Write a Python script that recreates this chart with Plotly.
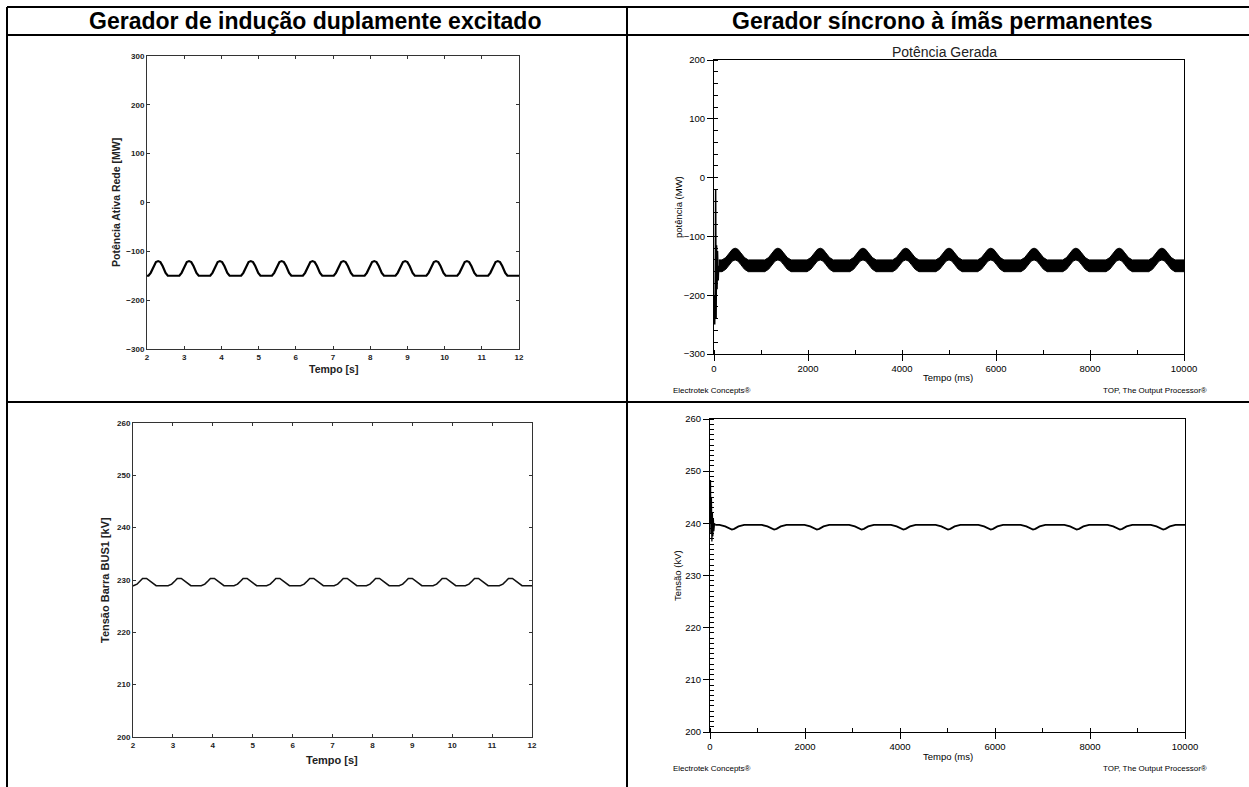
import plotly.graph_objects as go

W, H = 1249, 787

# ---------------- data ----------------
# Top-left: DFIG active power [MW] vs time [s]
tl_xticks = [2, 3, 4, 5, 6, 7, 8, 9, 10, 11, 12]
tl_yticks = [-300, -200, -100, 0, 100, 200, 300]
tl_peaks = [2.30, 3.13, 3.96, 4.79, 5.62, 6.45, 7.28, 8.11, 8.94, 9.77, 10.60, 11.43]
tl_base = -150
tl_bump_dt = [-0.26, -0.20, -0.12, -0.06, 0.0, 0.06, 0.12, 0.20, 0.26]
tl_bump_v = [-150, -144, -130, -122, -120, -122, -130, -144, -150]

# Bottom-left: DFIG bus voltage [kV] vs time [s]
bl_yticks = [200, 210, 220, 230, 240, 250, 260]
bl_peaks = [2.28, 3.15, 3.98, 4.80, 5.62, 6.47, 7.31, 8.12, 8.94, 9.79, 10.60, 11.45]
bl_base = 228.9
bl_bump_dt = [-0.27, -0.18, -0.10, -0.04, 0.06, 0.14, 0.22, 0.30]
bl_bump_v = [228.9, 229.2, 229.8, 230.3, 230.3, 229.8, 229.3, 228.9]

# Top-right: PMSG generated power [MW] vs time [ms] (noisy band)
tr_xticks = [0, 2000, 4000, 6000, 8000, 10000]
tr_yticks = [-300, -200, -100, 0, 100, 200]
tr_peaks = [450, 1360, 2260, 3170, 4080, 5000, 5890, 6810, 7700, 8620, 9530]
tr_base = -150
tr_bump_dt = [-280, -200, -120, -60, 0, 60, 120, 200, 280]
tr_bump_c = [-150, -146, -138, -132, -130, -132, -138, -146, -150]
tr_halfband = 10
tr_trans_t = [0, 15, 25, 35, 45, 55, 65, 75, 90, 100]
tr_trans_v = [-200, -250, -190, -20, -240, -115, -190, -125, -175, -150]

# Bottom-right: PMSG voltage [kV] vs time [ms]
br_yticks = [200, 210, 220, 230, 240, 250, 260]
br_dips = [460, 1350, 2250, 3190, 4070, 5010, 5910, 6800, 7720, 8630, 9540]
br_base = 239.7
br_bump_dt = [-260, -140, -50, 0, 50, 140, 260]
br_bump_v = [239.7, 239.4, 238.95, 238.8, 238.95, 239.4, 239.7]
br_trans_t = [0, 10, 20, 30, 40, 50, 60, 70, 80, 95, 110]
br_trans_v = [240, 248.3, 238, 245, 236.5, 242, 237.5, 241, 238.5, 240, 239.7]

headers = ["Gerador de indução duplamente excitado", "Gerador síncrono à ímãs permanentes"]


def px(x):
    return x / W


def py(y):
    return 1 - y / H


def build(t0, t1, base, centers, dts, vals):
    xs, ys = [t0], [base]
    for c in centers:
        for d, v in zip(dts, vals):
            xs.append(c + d)
            ys.append(v)
    xs.append(t1)
    ys.append(base)
    return xs, ys


fig = go.Figure()

# Top-left
x, y = build(2, 12, tl_base, tl_peaks, tl_bump_dt, tl_bump_v)
fig.add_trace(go.Scatter(x=x, y=y, mode="lines", line=dict(color="black", width=2.2),
                         xaxis="x", yaxis="y", showlegend=False, hoverinfo="skip"))

# Top-right band
x, c = build(100, 10000, tr_base, tr_peaks, tr_bump_dt, tr_bump_c)
lower = [v - tr_halfband for v in c]
upper = [v + tr_halfband for v in c]
fig.add_trace(go.Scatter(x=x, y=lower, mode="lines", line=dict(color="black", width=1),
                         xaxis="x2", yaxis="y2", showlegend=False, hoverinfo="skip"))
fig.add_trace(go.Scatter(x=x, y=upper, mode="lines", line=dict(color="black", width=1),
                         fill="tonexty", fillcolor="black",
                         xaxis="x2", yaxis="y2", showlegend=False, hoverinfo="skip"))
fig.add_trace(go.Scatter(x=tr_trans_t, y=tr_trans_v, mode="lines", line=dict(color="black", width=1.5),
                         xaxis="x2", yaxis="y2", showlegend=False, hoverinfo="skip"))

# Bottom-left
x, y = build(2, 12, bl_base, bl_peaks, bl_bump_dt, bl_bump_v)
fig.add_trace(go.Scatter(x=x, y=y, mode="lines", line=dict(color="#111", width=1.6),
                         xaxis="x3", yaxis="y3", showlegend=False, hoverinfo="skip"))

# Bottom-right
x, y = build(110, 10000, br_base, br_dips, br_bump_dt, br_bump_v)
fig.add_trace(go.Scatter(x=x, y=y, mode="lines", line=dict(color="black", width=1.8),
                         xaxis="x4", yaxis="y4", showlegend=False, hoverinfo="skip"))
fig.add_trace(go.Scatter(x=br_trans_t, y=br_trans_v, mode="lines", line=dict(color="black", width=1.3),
                         xaxis="x4", yaxis="y4", showlegend=False, hoverinfo="skip"))

mat_font = dict(family="Liberation Sans", size=8, color="#222", weight="bold")
top_font = dict(family="Liberation Sans", size=9.5, color="black")


def mat_axis(domain, anchor, rng, ticks):
    return dict(domain=domain, anchor=anchor, range=rng, tickmode="array", tickvals=ticks,
                ticks="inside", ticklen=3, tickcolor="#333", showline=True, linecolor="#333",
                linewidth=1, mirror="ticks", showgrid=False, zeroline=False, tickfont=mat_font,
                automargin=False, fixedrange=True)


def top_axis(domain, anchor, rng, dtick, minor):
    return dict(domain=domain, anchor=anchor, range=rng, tickmode="linear", tick0=rng[0], dtick=dtick,
                ticks="outside", ticklen=6, tickcolor="black", showline=True, linecolor="black",
                linewidth=1, mirror=True, showgrid=False, zeroline=False, tickfont=top_font,
                tickformat="d", separatethousands=False, automargin=False, fixedrange=True,
                minor=dict(dtick=minor, ticks="inside", ticklen=4, tickcolor="black", showgrid=False))


layout = dict(
    template="none",
    width=W, height=H, autosize=False, margin=dict(l=0, r=0, t=0, b=0, pad=0),
    paper_bgcolor="white", plot_bgcolor="white", showlegend=False,
    xaxis=mat_axis([px(147), px(519)], "y", [2, 12], tl_xticks),
    yaxis=mat_axis([py(349), py(56)], "x", [-300, 300], tl_yticks),
    xaxis3=mat_axis([px(133), px(532)], "y3", [2, 12], tl_xticks),
    yaxis3=mat_axis([py(737), py(423)], "x3", [200, 260], bl_yticks),
    xaxis2=top_axis([px(714), px(1184)], "y2", [0, 10000], 2000, 1000),
    yaxis2=top_axis([py(354), py(60)], "x2", [-300, 200], 100, 20),
    xaxis4=top_axis([px(710), px(1185)], "y4", [0, 10000], 2000, 1000),
    yaxis4=top_axis([py(732), py(419)], "x4", [200, 260], 10, 1),
)
fig.update_layout(**layout)

# Table lines
line = dict(color="black", width=2)
shapes = [
    dict(type="line", xref="paper", yref="paper", x0=px(7), x1=1, y0=py(7), y1=py(7), line=line),
    dict(type="line", xref="paper", yref="paper", x0=px(7), x1=1, y0=py(35), y1=py(35), line=line),
    dict(type="line", xref="paper", yref="paper", x0=px(7), x1=1, y0=py(402), y1=py(402), line=line),
    dict(type="line", xref="paper", yref="paper", x0=px(7), x1=px(7), y0=py(7), y1=0, line=line),
    dict(type="line", xref="paper", yref="paper", x0=px(627), x1=px(627), y0=py(7), y1=0, line=line),
]
fig.update_layout(shapes=shapes)


def ann(text, x, y, size, xanchor="center", angle=0, bold=False, family="Liberation Sans", color="black"):
    fig.add_annotation(text=text, x=px(x), y=py(y), xref="paper", yref="paper", showarrow=False,
                       xanchor=xanchor, yanchor="middle", textangle=angle, borderpad=0,
                       font=dict(family=family, size=size, color=color,
                                 weight="bold" if bold else "normal"))


ann(headers[0], 315, 21, 23, bold=True)
ann(headers[1], 943, 21, 23, bold=True)

# Top-left titles
ann("Potência Ativa Rede [MW]", 116, 203, 10.5, angle=-90, bold=True, color="#222")
ann("Tempo [s]", 333, 369, 10.5, bold=True, color="#222")
# Bottom-left titles
ann("Tensão Barra BUS1 [kV]", 105, 580, 11, angle=-90, bold=True, color="#222")
ann("Tempo [s]", 332, 760, 11, bold=True, color="#222")

# Top-right texts
ann("Potência Gerada", 944, 52, 14, color="#222")
ann("potência (MW)", 678, 207, 9.5, angle=-90)
ann("Tempo (ms)", 948, 378, 9.5)
ann("Electrotek Concepts®", 672, 390, 8, xanchor="left")
ann("TOP, The Output Processor®", 1208, 390, 8, xanchor="right")
# Bottom-right texts
ann("Tensão (kV)", 677, 576, 9.5, angle=-90)
ann("Tempo (ms)", 948, 756, 9.5)
ann("Electrotek Concepts®", 672, 768, 8, xanchor="left")
ann("TOP, The Output Processor®", 1208, 768, 8, xanchor="right")

post = ("document.documentElement.style.overflow='hidden';"
        "document.body.style.margin='0';document.body.style.overflow='hidden';"
        "var d=document.getElementById('{plot_id}');"
        "d.style.position='fixed';d.style.left='0px';d.style.top='0px';")
fig.write_html("out.html", config={"displayModeBar": False, "staticPlot": True}, post_script=post)
